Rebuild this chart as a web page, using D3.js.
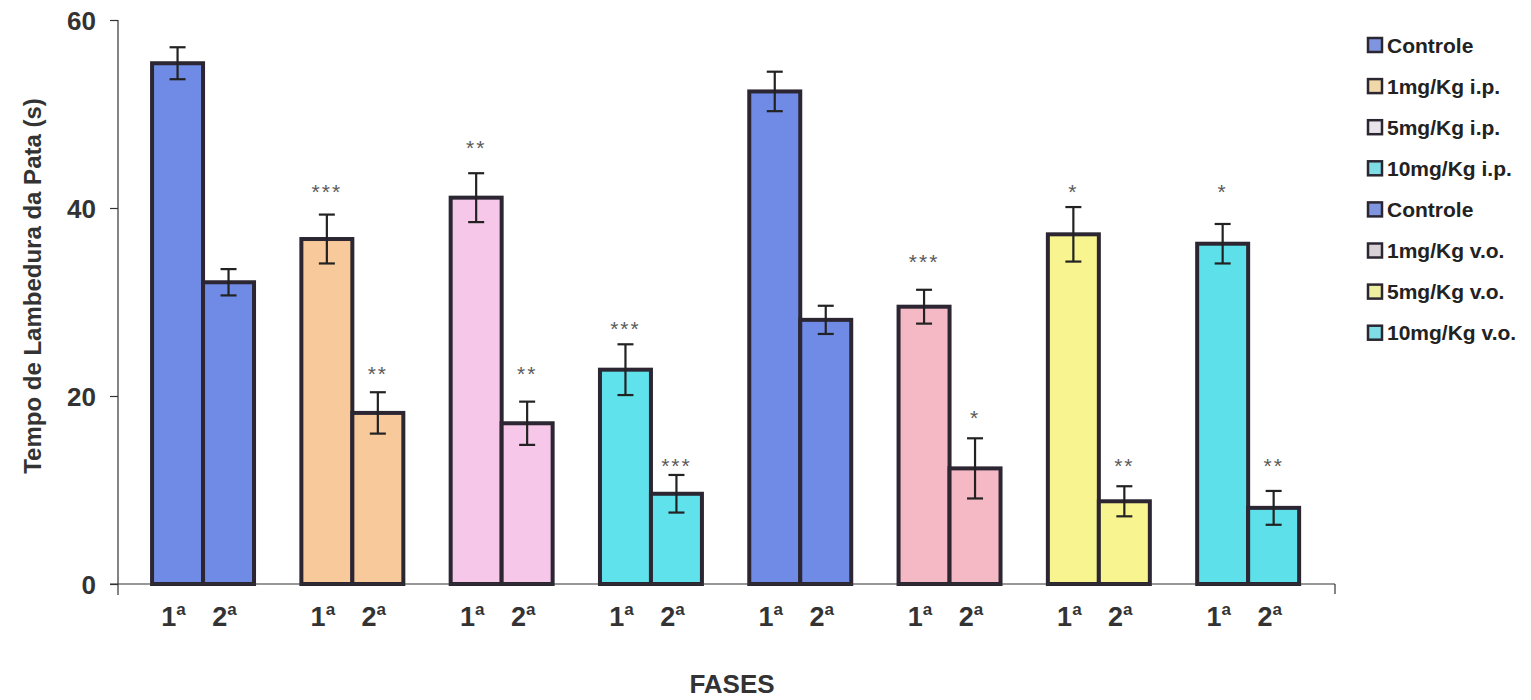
<!DOCTYPE html>
<html>
<head>
<meta charset="utf-8">
<script src="https://cdn.jsdelivr.net/npm/d3@7"></script>
<style>
  html, body { margin: 0; padding: 0; background: #fff; }
  svg { display: block; font-family: "Liberation Sans", Arial, sans-serif; }
</style>
</head>
<body>
<svg id="chart" width="1531" height="700"></svg>
<script>
// ---- data ----
const groups = ["Controle", "1mg/Kg i.p.", "5mg/Kg i.p.", "10mg/Kg i.p.",
                "Controle", "1mg/Kg v.o.", "5mg/Kg v.o.", "10mg/Kg v.o."];
const groupIds = ["g1", "g2", "g3", "g4", "g5", "g6", "g7", "g8"];
const phases = ["1", "2"];
const phase1 = [55.4, 36.7, 41.1, 22.8, 52.4, 29.5, 37.2, 36.2];
const phase2 = [32.1, 18.2, 17.1, 9.6, 28.1, 12.3, 8.8, 8.1];
const err1 = [1.7, 2.6, 2.6, 2.7, 2.1, 1.8, 2.9, 2.1];
const err2 = [1.4, 2.2, 2.3, 2.0, 1.5, 3.2, 1.6, 1.8];
const sig1 = ["", "***", "**", "***", "", "***", "*", "*"];
const sig2 = ["", "**", "**", "***", "", "*", "**", "**"];
// level (in seconds) at which each significance mark is written
const sigLevel1 = [0, 42.1, 46.8, 27.6, 0, 34.7, 42.1, 42.1];
const sigLevel2 = [0, 22.8, 22.8, 13.0, 0, 18.1, 13.0, 13.0];
const yTicks = [0, 20, 40, 60];

// ---- styles ----
const colors = ["#6f8be6", "#f8c99a", "#f6c7e9", "#60e2ec",
                "#6f8be6", "#f5b9c5", "#f8f590", "#5ee0ea"];
const legendColors = ["#7f95e0", "#f0d8a8", "#e8e4ea", "#7fdde6",
                      "#7f95e0", "#d8d2d6", "#eeeea0", "#7fdde6"];

const svg = d3.select("#chart");
const y = d3.scaleLinear().domain([0, 60]).range([584, 20]);
const x = d3.scaleBand().domain(groupIds).range([128.4, 1322.8])
  .paddingInner(0.317).paddingOuter(0.1585);
const xs = d3.scaleBand().domain(phases).range([0, x.bandwidth()]);

const rows = [];
groupIds.forEach((g, i) => {
  rows.push({g, i, p: "1", v: phase1[i], e: err1[i], s: sig1[i], sl: sigLevel1[i]});
  rows.push({g, i, p: "2", v: phase2[i], e: err2[i], s: sig2[i], sl: sigLevel2[i]});
});

// y axis
const yAxis = svg.append("g").attr("transform", "translate(118,0)")
  .call(d3.axisLeft(y).tickValues(yTicks).tickSize(8).tickPadding(14).tickFormat(d3.format("d")));
yAxis.select(".domain").remove();
yAxis.selectAll(".tick line").attr("stroke", "#333").attr("stroke-width", 1.2);
yAxis.selectAll(".tick text").attr("fill", "#333").style("font-size", "26px")
  .style("font-weight", "bold").attr("dy", "0.36em");
svg.append("line").attr("x1", 118).attr("x2", 118).attr("y1", y(60)).attr("y2", 595)
  .attr("stroke", "#333").attr("stroke-width", 1.2);

// bars
const bw = xs.bandwidth();
svg.append("g").selectAll("rect").data(rows).join("rect")
  .attr("x", d => x(d.g) + xs(d.p))
  .attr("y", d => y(d.v))
  .attr("width", bw)
  .attr("height", d => y(0) - y(d.v))
  .attr("fill", d => colors[d.i])
  .attr("stroke", "#2b2632")
  .attr("stroke-width", 4);

// x axis line
svg.append("line").attr("x1", 110).attr("x2", 1335).attr("y1", y(0)).attr("y2", y(0))
  .attr("stroke", "#333").attr("stroke-width", 1.2);
svg.append("line").attr("x1", 1335).attr("x2", 1335).attr("y1", y(0)).attr("y2", 594)
  .attr("stroke", "#333").attr("stroke-width", 1.2);

// error bars
const eg = svg.append("g").attr("stroke", "#222").attr("stroke-width", 2.2);
rows.forEach(d => {
  const cx = x(d.g) + xs(d.p) + bw / 2;
  eg.append("line").attr("x1", cx).attr("x2", cx).attr("y1", y(d.v + d.e)).attr("y2", y(d.v - d.e));
  eg.append("line").attr("x1", cx - 8).attr("x2", cx + 8).attr("y1", y(d.v + d.e)).attr("y2", y(d.v + d.e));
  eg.append("line").attr("x1", cx - 8).attr("x2", cx + 8).attr("y1", y(d.v - d.e)).attr("y2", y(d.v - d.e));
});

// significance marks
svg.append("g").selectAll("text").data(rows.filter(d => d.s)).join("text")
  .attr("x", d => x(d.g) + xs(d.p) + bw / 2)
  .attr("y", d => y(d.sl) + 11)
  .attr("text-anchor", "middle")
  .attr("fill", "#5a5a5a")
  .style("font-size", "21px")
  .style("letter-spacing", "2px")
  .text(d => d.s);

// phase labels
const pl = svg.append("g").selectAll("text").data(rows).join("text")
  .attr("x", d => x(d.g) + xs(d.p) + bw / 2 - 4)
  .attr("y", 626)
  .attr("text-anchor", "middle")
  .attr("fill", "#333")
  .style("font-size", "27px")
  .style("font-weight", "bold");
pl.append("tspan").text(d => d.p);
pl.append("tspan").attr("dy", -11).style("font-size", "17px").text("a");

// axis titles
svg.append("text").attr("x", 732).attr("y", 693).attr("text-anchor", "middle")
  .attr("fill", "#333").style("font-size", "26px").style("font-weight", "bold").text("FASES");
svg.append("text").attr("transform", "translate(41,286) rotate(-90)").attr("text-anchor", "middle")
  .attr("fill", "#333").style("font-size", "24px").style("font-weight", "bold")
  .text("Tempo de Lambedura da Pata (s)");

// legend
const lg = svg.append("g").selectAll("g").data(groups).join("g")
  .attr("transform", (d, i) => `translate(1367,${45 + i * 41.1})`);
lg.append("rect").attr("x", 1).attr("y", -7).attr("width", 14).attr("height", 14)
  .attr("fill", (d, i) => legendColors[i]).attr("stroke", "#2b2632").attr("stroke-width", 2.5);
lg.append("text").attr("x", 20).attr("y", 0).attr("dy", "0.36em")
  .attr("fill", "#222").style("font-size", "21px").style("font-weight", "bold")
  .text(d => d);
</script>
</body>
</html>
